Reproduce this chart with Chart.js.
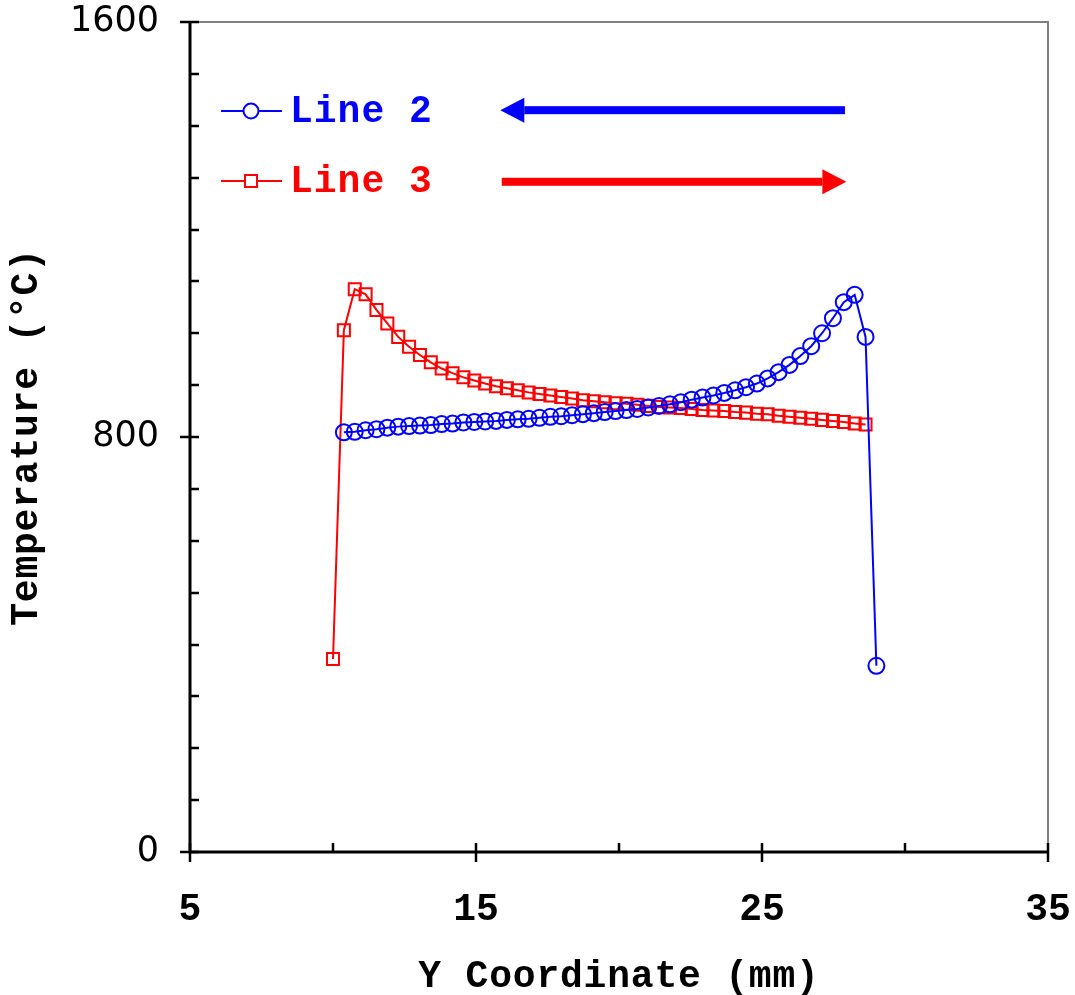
<!DOCTYPE html>
<html>
<head>
<meta charset="utf-8">
<title>Temperature vs Y Coordinate</title>
<script src="https://cdn.jsdelivr.net/npm/chart.js@4.4.0/dist/chart.umd.min.js"></script>
<style>
  html, body { margin: 0; padding: 0; background: #fff; }
  #wrap { width: 1075px; height: 995px; }
</style>
</head>
<body>
<div id="wrap"><canvas id="chart" width="1075" height="995"></canvas></div>
<script>
// 数据
const line2Y = [10.38, 10.76, 11.14, 11.52, 11.90, 12.28, 12.66, 13.04, 13.42, 13.80,
  14.18, 14.56, 14.94, 15.32, 15.70, 16.08, 16.46, 16.84, 17.22, 17.60,
  17.98, 18.36, 18.74, 19.12, 19.50, 19.88, 20.26, 20.64, 21.02, 21.40,
  21.78, 22.16, 22.54, 22.92, 23.30, 23.68, 24.06, 24.44, 24.82, 25.20,
  25.58, 25.96, 26.34, 26.72, 27.10, 27.48, 27.86, 28.24, 28.62, 29.00];
const line2Temp = [809, 810, 813, 815, 818, 820, 821, 822, 823, 825,
  826, 828, 829, 830, 831, 833, 834, 835, 837, 839,
  840, 842, 844, 846, 848, 850, 852, 854, 857, 860,
  863, 867, 872, 876, 880, 885, 890, 896, 903, 913,
  925, 939, 956, 975, 1000, 1029, 1060, 1074, 993, 359];

const line3Y = [10.00, 10.38, 10.76, 11.14, 11.52, 11.90, 12.28, 12.66, 13.04, 13.42,
  13.80, 14.18, 14.56, 14.94, 15.32, 15.70, 16.08, 16.46, 16.84, 17.22,
  17.60, 17.98, 18.36, 18.74, 19.12, 19.50, 19.88, 20.26, 20.64, 21.02,
  21.40, 21.78, 22.16, 22.54, 22.92, 23.30, 23.68, 24.06, 24.44, 24.82,
  25.20, 25.58, 25.96, 26.34, 26.72, 27.10, 27.48, 27.86, 28.24, 28.62];
const line3Temp = [372, 1006, 1085, 1075, 1045, 1019, 993, 974, 958, 944,
  932, 923, 915, 909, 903, 898, 894, 890, 886, 883,
  880, 877, 874, 871, 869, 867, 865, 864, 862, 860,
  858, 857, 856, 854, 852, 851, 850, 848, 847, 845,
  844, 841, 839, 837, 835, 833, 831, 829, 826, 824];

const xLabels = [5, 15, 25, 35];
const yLabels = [0, 800, 1600];

// 箭头（数据坐标）
const arrowLine2 = { from: 27.9, to: 15.85, temp: 1430 };
const arrowLine3 = { from: 15.9, to: 27.95, temp: 1292 };

const MONO = '"Liberation Mono", "Courier New", monospace';

function toPoints(xs, ys) {
  return xs.map((x, i) => ({ x: x, y: ys[i] }));
}

function noPad(s) {
  s.paddingTop = 0;
  s.paddingBottom = 0;
  s.paddingLeft = 0;
  s.paddingRight = 0;
}

// 坐标框、刻度、图例、箭头、轴标题
const framePlugin = {
  id: 'frame',
  beforeDatasetsDraw(chart) {
    const ctx = chart.ctx;
    const a = chart.chartArea;
    const xs = chart.scales.x;
    const ys = chart.scales.y;
    ctx.save();
    // 上、右边框
    ctx.strokeStyle = '#808080';
    ctx.lineWidth = 2;
    ctx.beginPath();
    ctx.moveTo(a.left, a.top);
    ctx.lineTo(a.right, a.top);
    ctx.lineTo(a.right, a.bottom);
    ctx.stroke();
    // 坐标轴
    ctx.strokeStyle = '#000';
    ctx.lineWidth = 3;
    ctx.beginPath();
    ctx.moveTo(a.left, a.top - 1);
    ctx.lineTo(a.left, a.bottom);
    ctx.lineTo(a.right + 1, a.bottom);
    ctx.stroke();
    // 刻度
    ctx.lineWidth = 2.5;
    ctx.beginPath();
    ys.ticks.forEach(t => {
      const py = Math.round(ys.getPixelForValue(t.value));
      const major = yLabels.includes(t.value);
      ctx.moveTo(a.left - (major ? 10 : 0), py);
      ctx.lineTo(a.left + 9, py);
    });
    xs.ticks.forEach(t => {
      const px = Math.round(xs.getPixelForValue(t.value));
      const major = xLabels.includes(t.value);
      ctx.moveTo(px, a.bottom + (major ? 10 : 0));
      ctx.lineTo(px, a.bottom - 9);
    });
    ctx.stroke();
    ctx.restore();
  },
  afterDraw(chart) {
    const ctx = chart.ctx;
    const a = chart.chartArea;
    const xs = chart.scales.x;
    const ys = chart.scales.y;
    ctx.save();

    // 图例
    const items = [
      { text: 'Line 2', color: '#0000ff', y: 111, style: 'circle' },
      { text: 'Line 3', color: '#ff0000', y: 181, style: 'rect' }
    ];
    items.forEach(it => {
      ctx.strokeStyle = it.color;
      ctx.lineWidth = 2;
      ctx.beginPath();
      ctx.moveTo(221, it.y);
      ctx.lineTo(282, it.y);
      ctx.stroke();
      ctx.beginPath();
      if (it.style === 'circle') {
        ctx.arc(251, it.y, 7.5, 0, Math.PI * 2);
      } else {
        ctx.rect(245, it.y - 6, 12, 12);
      }
      ctx.fillStyle = '#fff';
      ctx.fill();
      ctx.stroke();
      ctx.fillStyle = it.color;
      ctx.font = 'bold 38px ' + MONO;
      ctx.textAlign = 'left';
      ctx.textBaseline = 'middle';
      ctx.letterSpacing = '1px';
      ctx.fillText(it.text, 290, it.y + 1);
    });

    // 箭头
    function arrow(spec, color) {
      const x1 = xs.getPixelForValue(spec.from);
      const x2 = xs.getPixelForValue(spec.to);
      const y = ys.getPixelForValue(spec.temp);
      const dir = Math.sign(x2 - x1);
      const head = 24;
      ctx.fillStyle = color;
      ctx.fillRect(Math.min(x1, x2 - dir * head), y - 4, Math.abs(x2 - dir * head - x1), 8);
      ctx.beginPath();
      ctx.moveTo(x2, y);
      ctx.lineTo(x2 - dir * head, y - 12.5);
      ctx.lineTo(x2 - dir * head, y + 12.5);
      ctx.closePath();
      ctx.fill();
    }
    arrow(arrowLine2, '#0000ff');
    arrow(arrowLine3, '#ff0000');

    // 轴标题
    ctx.fillStyle = '#000';
    ctx.font = 'bold 38px ' + MONO;
    ctx.letterSpacing = '0.8px';
    ctx.textAlign = 'center';
    ctx.textBaseline = 'middle';
    ctx.fillText('Y Coordinate (mm)', (a.left + a.right) / 2, 977);
    ctx.translate(27, (a.top + a.bottom) / 2);
    ctx.rotate(-Math.PI / 2);
    ctx.fillText('Temperature (\u00B0C)', 0, 0);
    ctx.restore();
  }
};

const ctx = document.getElementById('chart');
new Chart(ctx, {
  type: 'scatter',
  data: {
    datasets: [{
      label: 'Line 2',
      data: toPoints(line2Y, line2Temp),
      showLine: true,
      borderColor: '#0000ff',
      borderWidth: 2,
      pointStyle: 'circle',
      pointRadius: 8,
      pointBorderWidth: 2,
      pointBorderColor: '#0000ff',
      pointBackgroundColor: 'rgba(0,0,0,0)',
      tension: 0
    }, {
      label: 'Line 3',
      data: toPoints(line3Y, line3Temp),
      showLine: true,
      borderColor: '#ff0000',
      borderWidth: 2,
      pointStyle: 'rect',
      pointRadius: 8.5,
      pointBorderWidth: 2,
      pointBorderColor: '#ff0000',
      pointBackgroundColor: 'rgba(0,0,0,0)',
      tension: 0
    }]
  },
  options: {
    responsive: false,
    animation: false,
    layout: { padding: { top: 22, right: 27, left: 0, bottom: 0 } },
    plugins: {
      legend: { display: false },
      tooltip: { enabled: false }
    },
    scales: {
      x: {
        type: 'linear',
        min: 5,
        max: 35,
        grid: { display: false, drawTicks: false },
        border: { display: false },
        afterFit: s => { s.height = 143; noPad(s); },
        ticks: {
          stepSize: 5,
          autoSkip: false,
          maxRotation: 0,
          padding: 36,
          color: '#000',
          font: { family: MONO, size: 38, weight: 'bold' },
          callback: v => xLabels.includes(v) ? String(v) : ''
        }
      },
      y: {
        type: 'linear',
        min: 0,
        max: 1600,
        grid: { display: false, drawTicks: false },
        border: { display: false },
        afterFit: s => { s.width = 190; noPad(s); },
        ticks: {
          stepSize: 100,
          autoSkip: false,
          padding: 31,
          color: '#000',
          font: { family: '"DejaVu Sans", sans-serif', size: 35 },
          callback: v => yLabels.includes(v) ? String(v) : ''
        }
      }
    }
  },
  plugins: [framePlugin]
});
</script>
</body>
</html>
